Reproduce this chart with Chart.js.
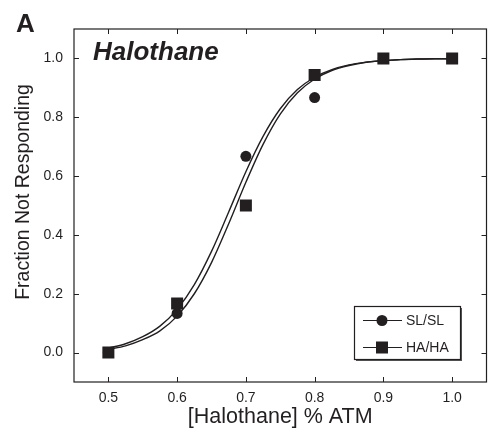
<!DOCTYPE html>
<html>
<head>
<meta charset="utf-8">
<script src="https://cdn.jsdelivr.net/npm/chart.js@4.4.1/dist/chart.umd.min.js"></script>
<style>
  html, body { margin: 0; padding: 0; background: #ffffff; }
  #wrap { position: relative; width: 495px; height: 430px; }
</style>
</head>
<body>
<div id="wrap"><canvas id="c" width="495" height="430"></canvas></div>
<script>
// ---- data ----
const doses = [0.5, 0.6, 0.7, 0.8, 0.9, 1.0];
const slslValues = [0.0, 0.133, 0.667, 0.867, 1.0, 1.0];
const hahaValues = [0.0, 0.167, 0.5, 0.944, 1.0, 1.0];

// fitted curves
const curveX = [0.5, 0.525, 0.55, 0.575, 0.6, 0.625, 0.65, 0.675, 0.7, 0.725, 0.75, 0.775, 0.8, 0.825, 0.85, 0.875, 0.9, 0.925, 0.95, 0.975, 1.0];
const curveLeft = [0.015, 0.030, 0.054, 0.090, 0.147, 0.231, 0.344, 0.478, 0.615, 0.735, 0.829, 0.894, 0.936, 0.962, 0.978, 0.987, 0.993, 0.996, 0.998, 0.999, 0.999];
const curveRight = [0.011, 0.023, 0.044, 0.074, 0.124, 0.200, 0.306, 0.438, 0.579, 0.708, 0.811, 0.883, 0.930, 0.959, 0.976, 0.987, 0.992, 0.996, 0.998, 0.999, 0.999];

const xTicks = [0.5, 0.6, 0.7, 0.8, 0.9, 1.0];
const yTicks = [0.0, 0.2, 0.4, 0.6, 0.8, 1.0];

const seriesLabels = ['SL/SL', 'HA/HA'];
const panelLetter = 'A';
const panelTitle = 'Halothane';
const xTitle = '[Halothane] % ATM';
const yTitle = 'Fraction Not Responding';

const INK = '#231f20';
const FONT = '"Liberation Sans", Arial, Helvetica, sans-serif';

const pts = (xs, ys) => xs.map((x, i) => ({ x: x, y: ys[i] }));

const framePlugin = {
  id: 'frame',
  afterDatasetsDraw(chart) {
    const ctx = chart.ctx;
    const a = chart.chartArea;
    const xs = chart.scales.x, ys = chart.scales.y;
    ctx.save();
    ctx.strokeStyle = INK;
    ctx.lineWidth = 1.2;
    ctx.strokeRect(a.left, a.top, a.right - a.left, a.bottom - a.top);
    ctx.lineWidth = 1;
    const tl = 5;
    xTicks.forEach(v => {
      const p = Math.round(xs.getPixelForValue(v)) + 0.5;
      ctx.beginPath();
      ctx.moveTo(p, a.bottom); ctx.lineTo(p, a.bottom - tl);
      ctx.moveTo(p, a.top); ctx.lineTo(p, a.top + tl);
      ctx.stroke();
    });
    yTicks.forEach(v => {
      const p = Math.round(ys.getPixelForValue(v)) + 0.5;
      ctx.beginPath();
      ctx.moveTo(a.left, p); ctx.lineTo(a.left + tl, p);
      ctx.moveTo(a.right, p); ctx.lineTo(a.right - tl, p);
      ctx.stroke();
    });
    // panel letter and title
    ctx.fillStyle = INK;
    ctx.textBaseline = 'alphabetic';
    ctx.textAlign = 'left';
    ctx.font = 'bold 26px ' + FONT;
    ctx.fillText(panelLetter, 16, 32);
    ctx.font = 'italic bold 26px ' + FONT;
    ctx.fillText(panelTitle, 93, 60);

    // y axis title
    ctx.save();
    ctx.translate(29, 192);
    ctx.rotate(-Math.PI / 2);
    ctx.textAlign = 'center';
    ctx.font = '19.5px ' + FONT;
    ctx.fillText(yTitle, 0, 0);
    ctx.restore();

    // legend box
    const lx = 354, ly = 306, lw = 106, lh = 53;
    ctx.fillStyle = '#555';
    ctx.fillRect(lx + 2, ly + 2, lw, lh);
    ctx.fillStyle = '#fff';
    ctx.fillRect(lx, ly, lw, lh);
    ctx.strokeStyle = INK;
    ctx.lineWidth = 1.2;
    ctx.strokeRect(lx + 0.5, ly + 0.5, lw, lh);
    const rows = [ly + 14, ly + 41];
    ctx.font = '14px ' + FONT;
    ctx.textBaseline = 'middle';
    rows.forEach((ry, i) => {
      ctx.strokeStyle = INK;
      ctx.lineWidth = 1;
      ctx.beginPath();
      ctx.moveTo(363, ry + 0.5); ctx.lineTo(402, ry + 0.5);
      ctx.stroke();
      ctx.fillStyle = INK;
      if (i === 0) {
        ctx.beginPath(); ctx.arc(382, ry + 0.5, 5.5, 0, Math.PI * 2); ctx.fill();
      } else {
        ctx.fillRect(376, ry - 5.5, 12, 12);
      }
      ctx.fillText(seriesLabels[i], 406, ry + 1);
    });
    ctx.restore();
  }
};

new Chart(document.getElementById('c'), {
  type: 'scatter',
  data: {
    datasets: [
      { label: seriesLabels[0], data: pts(doses, slslValues), pointStyle: 'circle', pointRadius: 5.5, pointHoverRadius: 5.5,
        backgroundColor: INK, borderColor: INK, borderWidth: 0, showLine: false, order: 1 },
      { label: seriesLabels[1], data: pts(doses, hahaValues), pointStyle: 'rect', pointRadius: 8.5, pointHoverRadius: 8.5,
        backgroundColor: INK, borderColor: INK, borderWidth: 0, showLine: false, order: 2 },
      { label: 'fit1', data: pts(curveX, curveLeft), showLine: true, pointRadius: 0, borderColor: INK, borderWidth: 1.4,
        cubicInterpolationMode: 'monotone', fill: false, order: 3 },
      { label: 'fit2', data: pts(curveX, curveRight), showLine: true, pointRadius: 0, borderColor: INK, borderWidth: 1.4,
        cubicInterpolationMode: 'monotone', fill: false, order: 4 }
    ]
  },
  options: {
    responsive: false,
    animation: false,
    devicePixelRatio: 1,
    layout: { padding: { left: 0, right: 5, top: 29, bottom: 0 } },
    plugins: { legend: { display: false }, tooltip: { enabled: false } },
    scales: {
      x: {
        type: 'linear', min: 0.45, max: 1.05,
        afterBuildTicks: s => { s.ticks = xTicks.map(v => ({ value: v })); },
        afterFit: s => { s.height = 48; },
        grid: { display: false, drawTicks: false },
        border: { display: false },
        ticks: { color: INK, font: { family: FONT, size: 14 }, padding: 8, maxRotation: 0,
                 callback: v => Number(v).toFixed(1) },
        title: { display: true, text: xTitle, color: INK, font: { family: FONT, size: 21.5 }, padding: { top: 0, bottom: 0 } }
      },
      y: {
        type: 'linear', min: -0.1, max: 1.1,
        afterBuildTicks: s => { s.ticks = yTicks.map(v => ({ value: v })); },
        afterFit: s => { s.width = 74; },
        grid: { display: false, drawTicks: false },
        border: { display: false },
        ticks: { color: INK, font: { family: FONT, size: 14 }, padding: 11,
                 callback: v => Number(v).toFixed(1) },
        title: { display: false }
      }
    }
  },
  plugins: [framePlugin]
});
</script>
</body>
</html>
